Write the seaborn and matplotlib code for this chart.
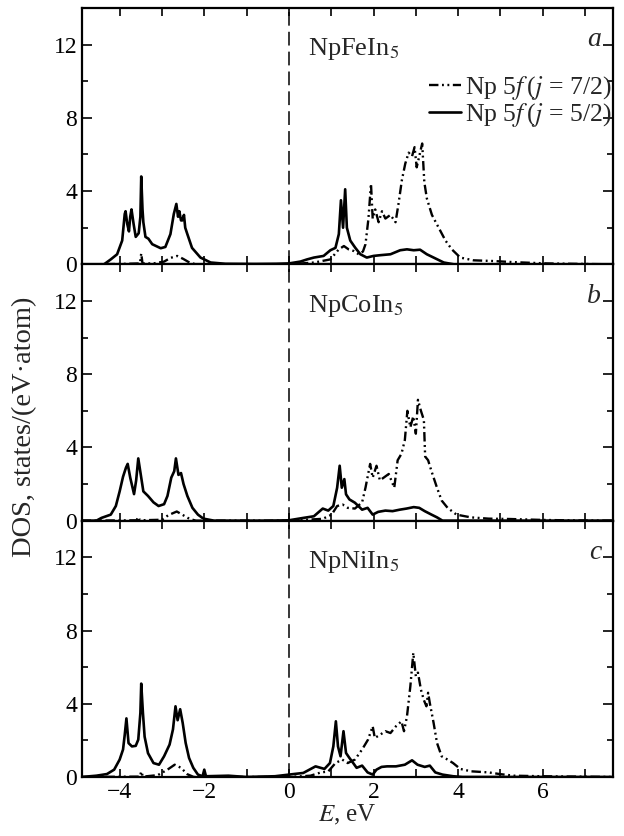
"Np 5f partial DOS for NpFeIn5 / NpCoIn5 / NpNiIn5, three stacked panels"
import numpy as np
import pandas as pd
import matplotlib as mpl
mpl.use("Agg")
from matplotlib import pyplot as plt
from matplotlib.ticker import MultipleLocator
import seaborn as sns

# ---- data (E in eV, DOS in states/(eV*atom)) ----
compounds = ["NpFeIn$_5$", "NpCoIn$_5$", "NpNiIn$_5$"]
panel_letters = ["a", "b", "c"]
series_labels = ["Np 5$f\\,$($j$ = 7/2)", "Np 5$f\\,$($j$ = 5/2)"]

fe_e52 = [-4.9, -4.37, -4.21, -4.06, -3.94, -3.88, -3.86, -3.82, -3.78, -3.75, -3.72, -3.67, -3.62,
          -3.55, -3.51, -3.49, -3.46, -3.44, -3.39, -3.32, -3.23, -3.03, -2.92, -2.80, -2.72, -2.66,
          -2.62, -2.59, -2.55, -2.52, -2.48, -2.45, -2.40, -2.29, -2.09, -1.85, -1.5, -0.8, -0.3,
          0.0, 0.27, 0.43, 0.59, 0.82, 0.98, 1.10, 1.18, 1.23, 1.28, 1.33, 1.37, 1.45, 1.57, 1.69,
          1.84, 2.0, 2.16, 2.40, 2.63, 2.79, 2.95, 3.10, 3.26, 3.42, 3.66, 3.9, 7.7]
fe_d52 = [0, 0.0, 0.27, 0.55, 1.3, 2.75, 2.9, 2.2, 1.8, 2.6, 3.0, 2.2, 1.5,
          1.7, 2.6, 4.8, 3.0, 2.3, 1.5, 1.4, 1.1, 0.88, 0.95, 1.65, 2.75, 3.3,
          2.6, 2.9, 2.4, 2.4, 2.7, 2.0, 1.65, 0.9, 0.37, 0.1, 0.03, 0.02, 0.03,
          0.05, 0.15, 0.27, 0.37, 0.46, 0.77, 0.9, 1.65, 3.5, 2.0, 4.1, 2.0, 1.3, 0.9, 0.55,
          0.37, 0.46, 0.5, 0.55, 0.77, 0.82, 0.77, 0.8, 0.55, 0.37, 0.1, 0.0, 0.0]
fe_e72 = [-4.9, -4.0, -3.52, -3.49, -3.46, -3.2, -2.95, -2.8, -2.64, -2.5, -2.35, -2.2, 0.0, 0.6,
          0.98, 1.18, 1.30, 1.41, 1.53, 1.65, 1.75, 1.81, 1.88, 1.94, 1.98, 2.04, 2.12, 2.20, 2.28,
          2.40, 2.52, 2.59, 2.67, 2.75, 2.83, 2.91, 2.97, 3.02, 3.09, 3.15, 3.20, 3.26, 3.38, 3.54,
          3.70, 3.85, 4.05, 4.36, 4.84, 5.31, 6.1, 7.0, 7.7]
fe_d72 = [0, 0.02, 0.05, 0.6, 0.05, 0.05, 0.15, 0.35, 0.46, 0.3, 0.1, 0.0, 0.0, 0.1,
          0.27, 0.82, 1.0, 0.82, 0.73, 0.55, 0.7, 1.1, 2.5, 4.4, 2.5, 3.0, 2.3, 2.9, 2.5,
          2.7, 2.3, 3.3, 4.6, 5.5, 6.1, 5.9, 6.4, 5.3, 6.0, 6.6, 4.5, 3.6, 2.7, 2.0,
          1.3, 0.82, 0.37, 0.22, 0.18, 0.12, 0.05, 0.02, 0.0]

co_e52 = [-4.9, -4.55, -4.43, -4.21, -4.09, -4.0, -3.92, -3.85, -3.81, -3.75, -3.66, -3.61, -3.56,
          -3.50, -3.44, -3.33, -3.20, -3.08, -2.95, -2.87, -2.78, -2.71, -2.67, -2.61, -2.55, -2.49,
          -2.40, -2.28, -2.15, -2.02, -1.77, -0.5, 0.0, 0.34, 0.59, 0.80, 0.93, 1.05, 1.14, 1.20,
          1.25, 1.31, 1.35, 1.43, 1.56, 1.73, 1.86, 1.98, 2.11, 2.28, 2.45, 2.62, 2.78, 2.95, 3.08,
          3.21, 3.37, 3.50, 3.63, 7.7]
co_d52 = [0, 0, 0.15, 0.33, 0.8, 1.6, 2.4, 2.9, 3.1, 2.35, 1.45, 2.2, 3.4,
          2.5, 1.6, 1.35, 1.0, 0.8, 0.9, 1.35, 2.35, 2.7, 3.4, 2.5, 2.6, 2.0,
          1.35, 0.7, 0.33, 0.11, 0.0, 0.0, 0.02, 0.15, 0.24, 0.66, 0.55, 0.8, 1.8, 3.0,
          1.8, 2.27, 1.44, 1.16, 0.98, 0.6, 0.7, 0.33, 0.48, 0.55, 0.52, 0.6, 0.66, 0.74, 0.7,
          0.52, 0.33, 0.18, 0.0, 0.0]
co_e72 = [-4.9, -3.6, -3.56, -3.52, -3.0, -2.85, -2.65, -2.5, -2.35, -2.2, 0.0, 0.8, 1.01, 1.14,
          1.27, 1.39, 1.56, 1.73, 1.81, 1.92, 1.98, 2.07, 2.15, 2.24, 2.36, 2.49, 2.57, 2.66, 2.74,
          2.80, 2.87, 2.94, 3.0, 3.05, 3.12, 3.19, 3.22, 3.29, 3.37, 3.50, 3.61, 3.75, 3.96, 4.3,
          4.72, 5.23, 5.99, 6.8, 7.7]
co_d72 = [0, 0.02, 0.2, 0.02, 0.05, 0.3, 0.5, 0.3, 0.1, 0.0, 0.0, 0.1, 0.33, 0.8,
          0.88, 0.7, 0.66, 1.0, 1.8, 3.1, 2.35, 3.0, 2.2, 2.35, 2.55, 1.8, 3.3, 3.65, 4.4,
          6.0, 5.1, 5.7, 4.75, 6.6, 6.0, 5.5, 3.5, 3.3, 2.7, 1.8, 1.1, 0.7, 0.33, 0.18,
          0.11, 0.09, 0.04, 0.01, 0.0]

ni_e52 = [-4.9, -4.55, -4.30, -4.13, -4.0, -3.92, -3.88, -3.84, -3.79, -3.71, -3.62, -3.56, -3.51,
          -3.49, -3.45, -3.41, -3.33, -3.20, -3.07, -2.95, -2.82, -2.74, -2.68, -2.63, -2.57, -2.51,
          -2.44, -2.36, -2.26, -2.15, -2.04, -2.0, -1.96, -1.43, -1.01, -0.33, 0.0, 0.34, 0.63, 0.84,
          0.97, 1.05, 1.11, 1.16, 1.22, 1.29, 1.35, 1.43, 1.52, 1.60, 1.73, 1.86, 1.98, 2.07, 2.19,
          2.32, 2.53, 2.74, 2.91, 3.04, 3.21, 3.33, 3.46, 3.63, 3.88, 4.1, 7.7]
ni_d52 = [0, 0.07, 0.16, 0.4, 0.95, 1.5, 2.3, 3.2, 1.85, 1.67, 1.7, 2.04, 3.5,
          5.1, 3.5, 2.2, 1.3, 0.76, 0.67, 1.13, 1.77, 2.6, 3.86, 3.1, 3.7, 2.95,
          1.86, 1.04, 0.5, 0.13, 0.04, 0.4, 0.04, 0.07, 0.0, 0.04, 0.13, 0.22, 0.58, 0.44,
          0.76, 1.67, 3.04, 1.67, 1.13, 2.5, 1.31, 1.04, 0.76, 0.5, 0.62, 0.25, 0.13, 0.4, 0.55,
          0.58, 0.58, 0.67, 0.91, 0.67, 0.55, 0.62, 0.25, 0.13, 0.04, 0.0, 0.0]
ni_e72 = [-4.9, -3.52, -3.49, -3.45, -3.1, -2.87, -2.70, -2.55, -2.4, -2.25, 0.0, 0.51, 0.76, 0.93,
          1.10, 1.26, 1.39, 1.56, 1.73, 1.87, 1.98, 2.03, 2.15, 2.28, 2.40, 2.53, 2.66, 2.72, 2.79,
          2.87, 2.94, 3.0, 3.05, 3.12, 3.19, 3.25, 3.29, 3.33, 3.42, 3.50, 3.61, 3.75, 3.88, 4.05,
          4.30, 4.72, 4.98, 5.32, 5.99, 7.7]
ni_d72 = [0, 0.02, 0.3, 0.02, 0.1, 0.4, 0.67, 0.5, 0.15, 0.0, 0.0, 0.07, 0.25, 0.3,
          0.76, 0.95, 0.76, 0.95, 1.5, 2.04, 2.77, 2.13, 2.3, 2.5, 2.4, 2.77, 3.04, 2.5, 3.3,
          4.95, 6.78, 5.5, 5.7, 4.77, 4.2, 3.86, 4.6, 4.04, 2.95, 1.86, 1.13, 0.95, 0.76, 0.44,
          0.31, 0.25, 0.16, 0.07, 0.04, 0.0]

panels = [
    (fe_e72, fe_d72, fe_e52, fe_d52),
    (co_e72, co_d72, co_e52, co_d52),
    (ni_e72, ni_d72, ni_e52, ni_d52),
]

# ---- style ----
sns.set_style("ticks")
plt.rcParams['font.family'] = ['Liberation Serif', 'DejaVu Serif']
plt.rcParams['mathtext.fontset'] = 'stix'
plt.rcParams['axes.linewidth'] = 1.6
plt.rcParams['axes.edgecolor'] = 'black'

FS = 17
dashdotdot = (0, (4.0, 1.5, 0.8, 1.5, 0.8, 1.5))

fig, axes = plt.subplots(3, 1, figsize=(6.24, 8.36), dpi=100, sharex=True)
fig.subplots_adjust(left=0.1314, right=0.9824, bottom=0.0706, top=0.9904, hspace=0)

for i, ax in enumerate(axes):
    e72, d72, e52, d52 = panels[i]
    df72 = pd.DataFrame({"E": e72, "DOS": d72})
    df52 = pd.DataFrame({"E": e52, "DOS": d52})
    sns.lineplot(data=df72, x="E", y="DOS", ax=ax, color="black", lw=1.7,
                 linestyle=dashdotdot, sort=False, estimator=None, label=series_labels[0])
    sns.lineplot(data=df52, x="E", y="DOS", ax=ax, color="black", lw=1.9,
                 sort=False, estimator=None, label=series_labels[1])
    ax.axvline(0, color="black", lw=1.1, linestyle=(0, (9, 4)))

    ax.set_xlim(-4.89, 7.66)
    ax.set_ylim(0, 14)
    ax.xaxis.set_major_locator(MultipleLocator(2))
    ax.xaxis.set_minor_locator(MultipleLocator(1))
    ax.yaxis.set_major_locator(MultipleLocator(4))
    ax.yaxis.set_minor_locator(MultipleLocator(2))
    ax.tick_params(which="both", direction="in", top=True, right=True,
                   labelsize=FS, width=1.2, colors="black")
    ax.tick_params(axis="x", which="both", length=6)
    ax.tick_params(axis="y", which="major", length=7)
    ax.tick_params(axis="y", which="minor", length=4)
    ax.set_ylabel("")
    ax.set_xlabel("")

    ax.text(0.425, 0.815, compounds[i], transform=ax.transAxes, fontsize=19,
            ha="left", va="baseline")
    ax.text(0.978, 0.85, panel_letters[i], transform=ax.transAxes, fontsize=20,
            ha="right", va="baseline", style="italic")

    if i == 0:
        handles, labels = ax.get_legend_handles_labels()
        ax.legend(handles, labels, loc="upper right", bbox_to_anchor=(0.997, 0.742),
                  frameon=False, fontsize=18.5, handlelength=1.25, handletextpad=0.15,
                  labelspacing=-0.05, borderpad=0, borderaxespad=0)
    else:
        ax.get_legend().remove()

axes[-1].xaxis.set_major_formatter(mpl.ticker.FuncFormatter(
    lambda v, p: ("\u2212%d" % abs(v)) if v < 0 else "%d" % v))
axes[-1].set_xlabel("$E$, eV", fontsize=18, labelpad=0)
fig.text(0.040, 0.489, "DOS, states/(eV\u00b7atom)", rotation=90, fontsize=20.5,
         ha="center", va="center")

plt.savefig("out.png", dpi=100)
